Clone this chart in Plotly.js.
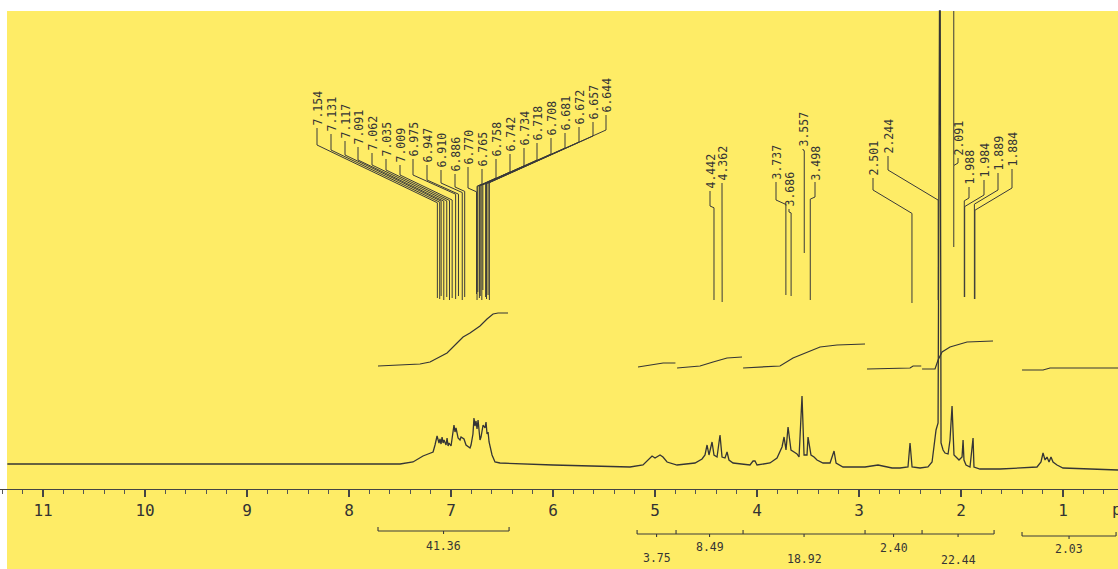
<!DOCTYPE html>
<html><head><meta charset="utf-8">
<script src="https://cdn.plot.ly/plotly-3.0.1.min.js"></script>
<style>html,body{margin:0;padding:0;background:#fff}#chart{width:1118px;height:569px}</style>
</head><body><div id="chart"></div>
<script>
// ---------------- DATA ----------------
// 1H NMR trace: chemical shift (ppm) and relative intensity
const specPpm = [11.35,9.0,7.50,7.373,7.275,7.225,7.176,7.157,7.137,7.118,7.108,7.098,7.088,7.078,7.069,7.049,7.039,7.029,7.020,7.000,6.990,6.971,6.961,6.951,6.931,6.912,6.902,6.873,6.853,6.833,6.814,6.804,6.785,6.775,6.765,6.755,6.745,6.735,6.716,6.706,6.696,6.686,6.667,6.657,6.647,6.637,6.627,6.598,6.569,6.520,6.0,5.5,5.245,5.118,5.049,5.029,5.000,4.951,4.922,4.882,4.784,4.657,4.608,4.539,4.510,4.490,4.471,4.441,4.422,4.392,4.363,4.343,4.314,4.294,4.275,4.235,4.069,4.039,4.020,4.000,3.873,3.804,3.755,3.735,3.716,3.696,3.667,3.637,3.608,3.588,3.559,3.539,3.510,3.500,3.471,3.441,3.412,3.353,3.284,3.245,3.225,3.157,3.088,2.941,2.814,2.676,2.598,2.520,2.500,2.480,2.402,2.324,2.284,2.265,2.245,2.225,2.216,2.211,2.204,2.196,2.176,2.157,2.127,2.108,2.088,2.078,2.069,2.039,2.020,1.990,1.980,1.971,1.951,1.912,1.882,1.873,1.814,1.618,1.255,1.216,1.196,1.176,1.157,1.137,1.118,1.098,1.059,1.000,0.461];
const specInt = [6,6,6,8,14,16,18,25,34,27,31,26,33,27,30,25,32,24,27,24,30,45,38,42,32,30,33,31,25,23,22,25,36,52,44,49,41,50,30,33,38,45,42,48,36,38,28,15,8,7,5,4,3,5,12,14,12,15,13,8,5,6,7,11,15,25,15,28,15,13,35,13,12,18,10,7,5,9,9,5,7,12,23,33,20,43,20,18,16,13,74,15,15,33,15,13,10,7,7,19,7,3,3,3,5,2,2,3,27,3,2,3,8,22,40,47,459,459,459,27,20,17,16,30,64,30,15,12,10,13,30,10,5,3,32,3,1,1,3,8,17,10,13,8,13,8,5,2,0];

// integral curves (one list per integrated region)
const integralPpm = [
  [7.716,7.471,7.304,7.206,7.137,7.039,6.941,6.882,6.814,6.716,6.647,6.588,6.539,6.441],
  [5.167,5.03,4.92,4.80],
  [4.784,4.559,4.431,4.294,4.147],
  [4.137,3.775,3.647,3.51,3.382,3.216,2.941],
  [2.922,2.5,2.47,2.39],
  [2.382,2.255,2.225,2.186,2.108,1.941,1.686],
  [1.402,1.196,1.127,1.0,0.46]
];
const integralCurve = [
  [104,105,106,108,112,117,127,133,137,144,151,156,157,157],
  [103,105,107,107],
  [102,104,108,112,113],
  [102,104,112,118,123,125,126],
  [101,102,104,104],
  [101,101,110,118,123,128,129],
  [100,100,102,102,102]
];
// integration regions and their values
const regionStart = [7.716,5.176,4.794,4.137,2.941,2.382,1.402];
const regionEnd   = [6.431,4.794,4.137,2.941,2.382,1.676,0.48];
const regionValue = ['41.36','3.75','8.49','18.92','2.40','22.44','2.03'];
const regionBracket = [0,1,1,1,1,1,2];   // which bracket each region belongs to

// peak pick labels
const peakLabels = ['7.154','7.131','7.117','7.091','7.062','7.035','7.009','6.975','6.947','6.910','6.886',
  '6.770','6.765','6.758','6.742','6.734','6.718','6.708','6.681','6.672','6.657','6.644',
  '4.442','4.362','3.737','3.686','3.557','3.498',
  '2.501','2.244','2.091','1.988','1.984','1.889','1.884'];

// axis ticks
const tickValues = [11,10,9,8,7,6,5,4,3,2,1];
const tickText = ['11','10','9','8','7','6','5','4','3','2','1'];

// ---------------- LAYOUT / STYLE ----------------
const W = 1118, H = 569;
const X_RANGE = [11.422, 0.461];
const Y_RANGE = [-99, 470];
const CAL = 0.02;            // label-to-trace calibration offset (ppm)
const INK = '#353535';
const YELLOW = '#FEEC66';
const MONO = 'DejaVu Sans Mono, Liberation Mono, monospace';

const pxToPpm = px => X_RANGE[0] + (X_RANGE[1]-X_RANGE[0]) * px / W;
const ppmToPx = v => (X_RANGE[0]-v) / (X_RANGE[0]-X_RANGE[1]) * W;
const pyToVal = py => Y_RANGE[1] - (Y_RANGE[1]-Y_RANGE[0]) * py / H;

// per-label placement (pixels): text x, text bottom, knee y, bottom y, slope, extendTop
const labelPlace = [
 [317,127,145,298,.48],[331,133,150,299,.48],[345,140,155,296,.48],[358,146,160,300,.48],
 [372,152,165,297,.48],[386,158,170,300,.48],[400,164,175,298,.48],
 [413,158,175,299,.45],[427,164,180,296,.45],[441,169,183,300,.45],[455,173,187,297,.45],
 [468,166,188,294,.45],[482,168,184,300,.45],[496,158,178,292,.45],[510,153,172,298,.45],
 [524,147,166,296,.45],[537,142,160,300,.45],[551,137,154,290,.45],[565,132,148,297,.45],
 [579,126,142,299,.45],[593,121,136,295,.45],[606,114,130,300,.45],
 [710,190,206,300,.45],[722,182,203,302,.45],[776,181,200,295,.45],[789,208,212,296,.45],
 [803,148,150,253,.45],[815,181,197,300,.45],
 [873,177,190,303,.6],[888,155,170,300,.6],[958,157,163,247,.6,11],[969,186,198,297,.6],
 [984,179,195,297,.6],[998,172,190,299,.6],[1012,168,188,299,.6]
];

// ---------------- TRACES ----------------
const traces = [];
traces.push({x: specPpm, y: specInt, mode:'lines', line:{color:INK, width:1.3}, hoverinfo:'skip'});

// integrals
let ix=[], iy=[];
integralPpm.forEach((seg,k)=>{ ix.push(...seg, null); iy.push(...integralCurve[k], null); });
traces.push({x: ix, y: iy, mode:'lines', line:{color:INK, width:1.2}, hoverinfo:'skip'});

// peak label leader lines
let lx=[], ly=[];
const annotations = [];
peakLabels.forEach((lab,i)=>{
  const [xt,tb,ky,bot,slope,top] = labelPlace[i];
  const xbPpm = parseFloat(lab) - CAL;
  const xbPx = ppmToPx(xbPpm);
  const endY = ky + slope*Math.abs(xt - xbPx);
  lx.push(pxToPpm(xt), pxToPpm(xt), xbPpm, xbPpm, null);
  ly.push(pyToVal(tb+1), pyToVal(ky), pyToVal(endY), pyToVal(bot), null);
  if (top !== undefined) { lx.push(xbPpm, xbPpm, null); ly.push(pyToVal(top), pyToVal(endY), null); }
  annotations.push({xref:'paper', yref:'y', x: xt/W, y: pyToVal(tb), text: lab, textangle:-90,
    showarrow:false, xanchor:'center', yanchor:'bottom', borderpad:0,
    font:{family:MONO, size:11.5, color:INK}});
});
traces.push({x: lx, y: ly, mode:'lines', line:{color:'#3a3a3a', width:1}, hoverinfo:'skip'});

// integration brackets
const bracketPy = [531, 534, 536];
const labelPy = [546, 558, 547, 559, 548, 560, 549];
let bx=[], by=[];
[0,1,2].forEach(b=>{
  const idx = regionBracket.map((r,k)=>r===b?k:-1).filter(k=>k>=0);
  const a = regionStart[idx[0]], e = regionEnd[idx[idx.length-1]];
  const yb = pyToVal(bracketPy[b]);
  bx.push(a, e, null); by.push(yb, yb, null);
  const bounds = [a, ...idx.map(k=>regionEnd[k])];
  bounds.forEach(v=>{ bx.push(v, v, null); by.push(yb, yb+4, null); });
  idx.forEach(k=>{
    const c = (regionStart[k]+regionEnd[k])/2;
    bx.push(c, c, null); by.push(yb, yb-3, null);
  });
});
traces.push({x: bx, y: by, mode:'lines', line:{color:'#3a3a3a', width:1.1}, hoverinfo:'skip'});

regionValue.forEach((v,k)=>{
  annotations.push({xref:'x', yref:'y', x:(regionStart[k]+regionEnd[k])/2, y: pyToVal(labelPy[k]),
    text: v, showarrow:false, xanchor:'center', yanchor:'middle',
    font:{family:MONO, size:11.5, color:INK}});
});
annotations.push({xref:'paper', yref:'y', x: 1110/W, y: pyToVal(509), text:'ppm', showarrow:false,
  xanchor:'left', yanchor:'middle', font:{family:MONO, size:16, color:INK}});

const layout = {
  width: W, height: H, margin:{l:0,r:0,t:0,b:0,pad:0},
  paper_bgcolor:'#ffffff', plot_bgcolor:'rgba(0,0,0,0)', showlegend:false,
  xaxis:{range: X_RANGE, autorange:false, anchor:'free', position:(H-489)/H, side:'bottom',
    showline:true, linecolor:'#444', linewidth:1.2, ticks:'outside', ticklen:7, tickwidth:1.2, tickcolor:'#444',
    tickmode:'array', tickvals: tickValues, ticktext: tickText,
    tickfont:{family:MONO, size:16, color:'#333'}, showgrid:false, zeroline:false,
    minor:{tickmode:'linear', tick0:0, dtick:0.2, ticks:'outside', ticklen:4, tickwidth:1, tickcolor:'#555', showgrid:false}},
  yaxis:{range: Y_RANGE, autorange:false, visible:false, showgrid:false, zeroline:false},
  shapes:[{type:'rect', xref:'paper', yref:'paper', x0:7/W, x1:1, y0:0, y1:1-11/H,
    fillcolor:YELLOW, line:{width:0}, layer:'below'}],
  annotations
};
Plotly.newPlot('chart', traces, layout, {staticPlot:true, displayModeBar:false});
</script></body></html>
